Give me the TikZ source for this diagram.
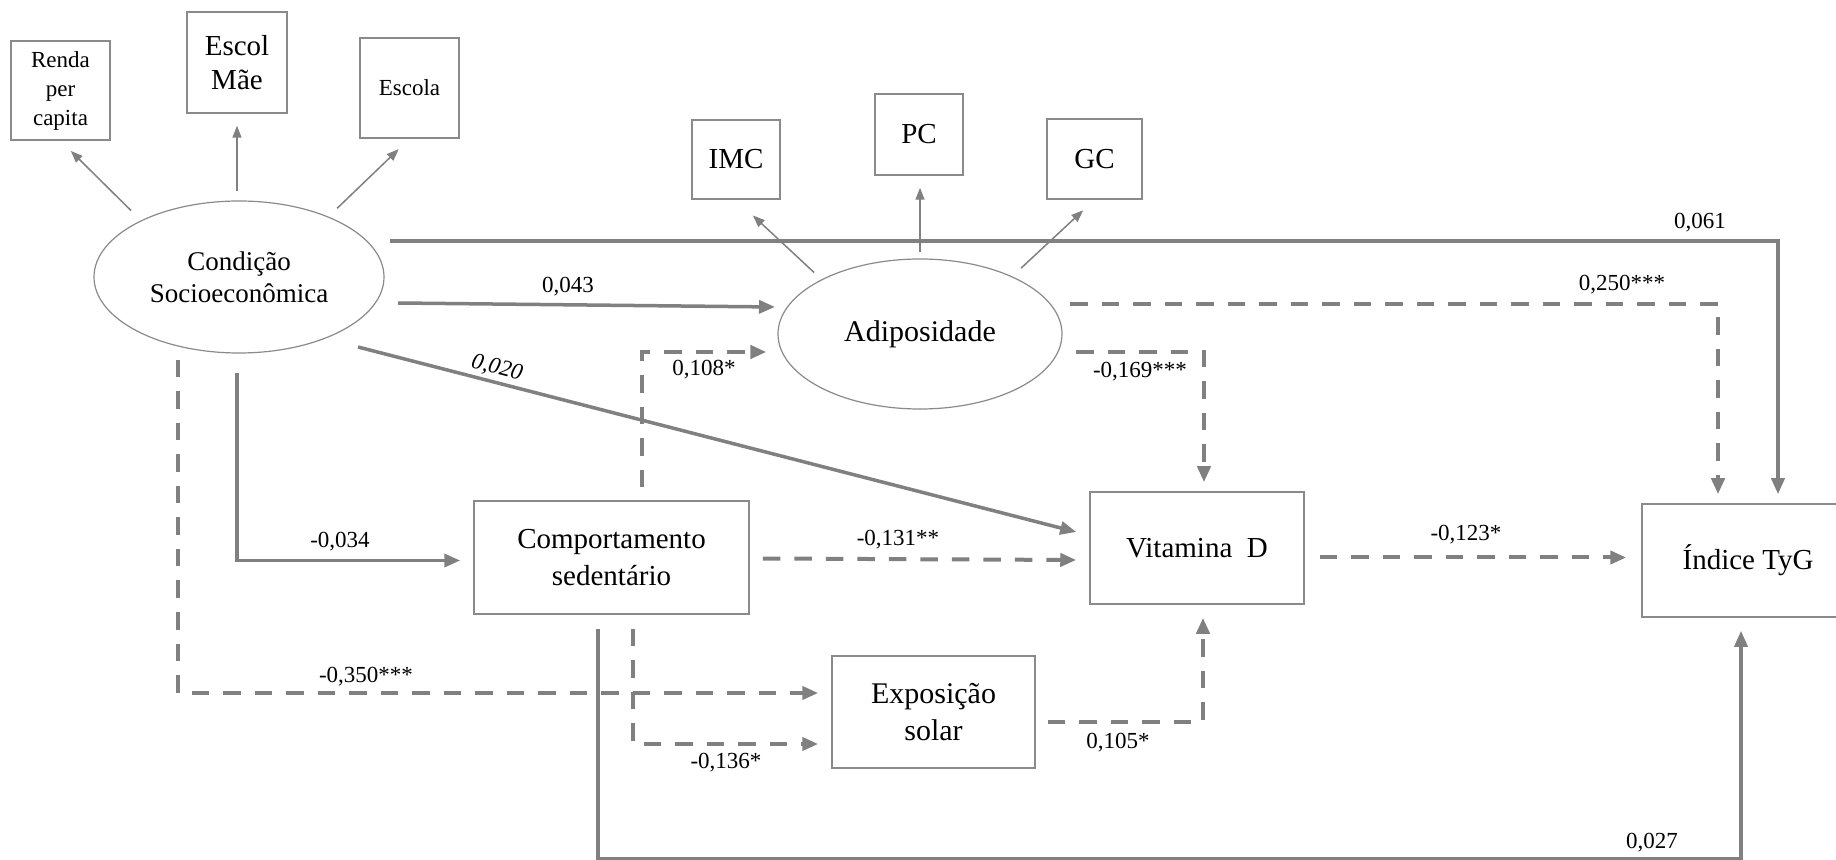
\documentclass[tikz,border=0pt]{standalone}
\usepackage{fontspec}
\setmainfont{Liberation Serif}
\usetikzlibrary{arrows.meta,calc,shapes.geometric}
\definecolor{lc}{RGB}{128,128,128}
\definecolor{bc}{RGB}{138,138,138}
\begin{document}
\begin{tikzpicture}[x=0.5pt,y=-0.5pt,
  box/.style={draw=bc, line width=0.75pt, inner sep=0pt, align=center, font=\fontsize{14.5}{18.5}\selectfont},
  latent/.style={ellipse, draw=bc, line width=0.6pt, inner sep=0pt, align=center},
  ind/.style={draw=lc, line width=0.75pt, -{Triangle[length=6pt,width=4.5pt]}},
  solidc/.style={draw=lc, line width=1.75pt, -{Triangle[length=8pt,width=6.5pt]}},
  dashc/.style={draw=lc, line width=2pt, dash pattern=on 8.75pt off 7pt, -{Triangle[length=8pt,width=6.5pt]}},
  lbl/.style={inner sep=0pt, font=\fontsize{11.5}{13}\selectfont},
]
\fill[white] (0,0) rectangle (1836,860);
\useasboundingbox (0,0) rectangle (1836,860);
\clip (0,0) rectangle (1836,860);

% observed indicators
\node[box, minimum width=49.5pt, minimum height=49.5pt, font=\fontsize{11.5}{14.5}\selectfont] (renda) at (60.5,90.5) {Renda\\per\\capita};
\node[box, minimum width=50pt, minimum height=50.5pt, font=\fontsize{14.5}{17}\selectfont] (escolmae) at (237,62.5) {Escol\\Mãe};
\node[box, minimum width=49.5pt, minimum height=50pt, font=\fontsize{11.5}{14}\selectfont] (escola) at (409.5,88) {Escola};
\node[box, minimum width=44pt, minimum height=39.5pt] (imc) at (736,159.5) {IMC};
\node[box, minimum width=44pt, minimum height=40.5pt] (pc) at (919,134.5) {PC};
\node[box, minimum width=47.5pt, minimum height=40pt] (gc) at (1094.5,159) {GC};

% latent
\node[latent, minimum width=145pt, minimum height=76pt, font=\fontsize{13.5}{16}\selectfont] (cond) at (239,277) {Condição\\Socioeconômica};
\node[latent, minimum width=142pt, minimum height=75pt, font=\fontsize{15}{18}\selectfont] (adip) at (920,334) {Adiposidade};

% main boxes
\node[box, minimum width=137.5pt, minimum height=56.5pt] (comp) at (611.5,557.5) {Comportamento\\sedentário};
\node[box, minimum width=107pt, minimum height=56pt] (vitd) at (1197,548) {Vitamina\ \ D};
\node[box, minimum width=106pt, minimum height=56.5pt] (tyg) at (1748,560.5) {Índice TyG};
\node[box, minimum width=101.5pt, minimum height=56pt, font=\fontsize{15}{18.5}\selectfont] (expo) at (933.5,712) {Exposição\\solar};

% indicator arrows
\draw[ind, shorten <=7pt, shorten >=7.25pt] (cond.150) -- (renda.south);
\draw[ind, shorten <=4.5pt, shorten >=6pt] (cond.north -| escolmae.south) -- (escolmae.south);
\draw[ind, shorten <=6pt, shorten >=7.5pt] (cond.34) -- (escola.south);
\draw[ind, shorten <=5pt, shorten >=11.5pt] (adip.151) -- (imc.south);
\draw[ind, shorten <=3pt, shorten >=6pt] (adip.north) -- (adip.north |- pc.south);
\draw[ind, shorten <=6pt, shorten >=7.75pt] (adip.32) -- (gc.south);

% structural paths
\draw[solidc] ($(cond.center)+(151,-36)$) -| ($(tyg.north)+(30,-9)$);
\draw[solidc] ($(cond.center)+(159,26)$) -- ($(adip.center)+(-145,-27)$);
\draw[solidc] ($(cond.center)+(119,70)$) -- ($(vitd.west)+(-13,-16)$);
\draw[solidc] ($(cond.center)+(-2,96)$) |- ($(comp.west)+(-13,3)$);
\draw[dashc] ($(cond.center)+(-61,83)$) |- ($(expo.west)+(-13,-19)$);
\draw[dashc] ($(comp.north)+(30.5,-13)$) |- ($(adip.west)+(-11,18)$);
\draw[dashc] ($(adip.center)+(156,18)$) -| ($(vitd.north)+(7,-9)$);
\draw[dashc] ($(adip.center)+(150,-30)$) -| ($(tyg.north)+(-30,-9)$);
\draw[dashc] ($(comp.east)+(13,1)$) -- ($(vitd.west)+(-13,12)$);
\draw[dashc] ($(vitd.east)+(15,9.5)$) -- ($(tyg.west)+(-15,-3)$);
\draw[dashc] ($(comp.south)+(21.5,14)$) |- ($(expo.west)+(-13,32)$);
\draw[dashc] ($(expo.east)+(12,10)$) -| ($(vitd.south)+(6,13)$);
\draw[solidc] ($(comp.south)+(-13.5,14)$) |- ($(tyg.south)+(-7,241)$) -- ($(tyg.south)+(-7,13)$);

% labels
\node[lbl] (l061) at (1700,223) {0,061};
\node[lbl] (l043) at (568,287) {0,043};
\node[lbl] (l250) at (1622,285) {0,250***};
\node[lbl, rotate=-14.4, font=\itshape\fontsize{11.5}{13}\selectfont] (l020) at (497,368) {0,020};
\node[lbl] (l108) at (704,370) {0,108*};
\node[lbl] (l169) at (1140,372) {-0,169***};
\node[lbl] (l034) at (340,542) {-0,034};
\node[lbl] (l131) at (898,540) {-0,131**};
\node[lbl] (l123) at (1466,535) {-0,123*};
\node[lbl] (l350) at (366,677) {-0,350***};
\node[lbl] (l136) at (726,763) {-0,136*};
\node[lbl] (l105) at (1118,743) {0,105*};
\node[lbl] (l027) at (1652,843) {0,027};
\end{tikzpicture}
\end{document}
